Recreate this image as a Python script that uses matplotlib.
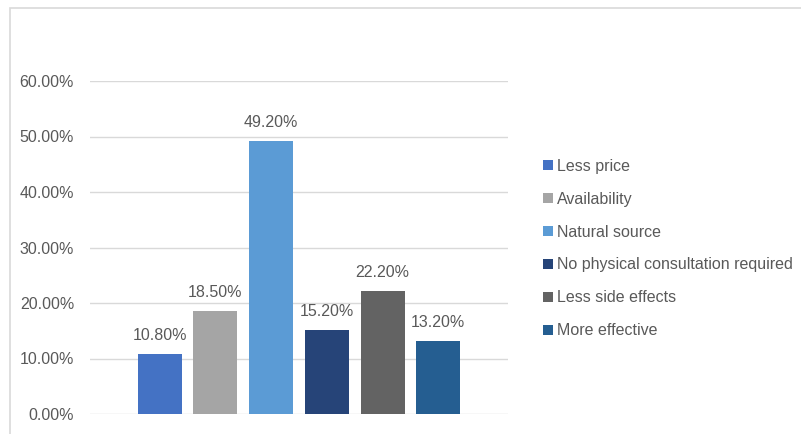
import matplotlib.pyplot as plt
from matplotlib.patches import Rectangle
from matplotlib.ticker import FuncFormatter

categories = ["Less price", "Availability", "Natural source",
              "No physical consultation required", "Less side effects", "More effective"]
values = [10.8, 18.5, 49.2, 15.2, 22.2, 13.2]
colors = ["#4472C4", "#A5A5A5", "#5B9BD5", "#264478", "#636363", "#255E91"]
yticks = [0, 10, 20, 30, 40, 50, 60]

plt.rcParams['font.family'] = ['Liberation Sans', 'DejaVu Sans']
txt = "#595959"
fs = 11.5

fig = plt.figure(figsize=(8.01, 4.34), dpi=100)
fig.patches.append(Rectangle((10 / 801, -0.01), 1.0, 1 - 8 / 434 + 0.01, transform=fig.transFigure,
                             fill=False, edgecolor="#d9d9d9", linewidth=1.2))

ax = fig.add_axes([90 / 801, 1 - 414 / 434, 418 / 801, 333 / 434])
x = list(range(len(values)))
bars = ax.bar(x, values, width=0.79, color=colors, label=categories, zorder=3)

for xi, v in zip(x, values):
    ax.annotate(f"{v:.2f}%", (xi, v), xytext=(0, 8), textcoords="offset points",
                ha="center", va="bottom", fontsize=fs, color=txt)

ax.set_xlim(-1.25, 5 + 1.25)
ax.set_ylim(0, 60)
ax.set_yticks(yticks)
ax.yaxis.set_major_formatter(FuncFormatter(lambda v, p: f"{v:.2f}%"))
ax.set_xticks([])
ax.tick_params(axis="y", length=0, pad=11.5, labelsize=fs, labelcolor=txt)
ax.grid(axis="y", color="#d9d9d9", linewidth=1, zorder=0)
for s in ax.spines.values():
    s.set_visible(False)

fig.legend(handles=bars, labels=categories, loc="center left",
           bbox_to_anchor=(535 / 801, 1 - 248.5 / 434), frameon=False,
           fontsize=fs, labelcolor=txt, handlelength=0.6, handleheight=0.6,
           handletextpad=0.3, labelspacing=1.12, borderpad=0)

fig.savefig("out.png", dpi=100)
